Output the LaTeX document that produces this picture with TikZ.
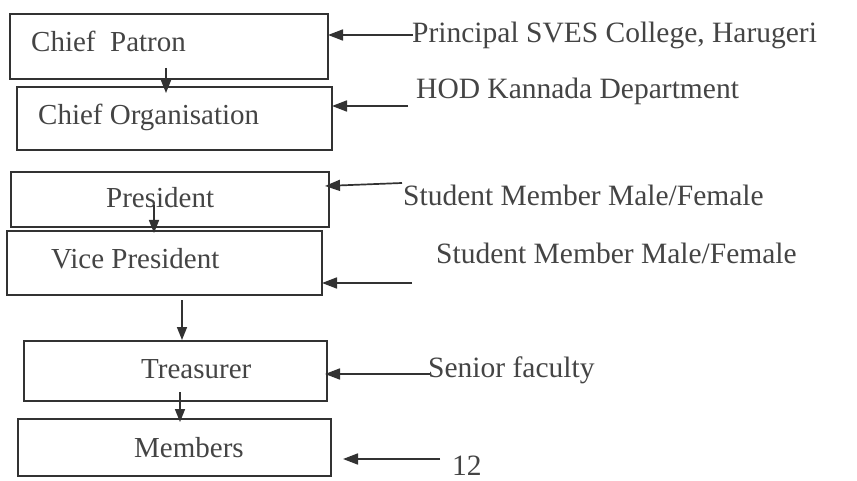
\documentclass[tikz,border=0pt]{standalone}
\usepackage{fontspec}
\setmainfont{Liberation Serif}
\usetikzlibrary{arrows.meta,calc}
\definecolor{linecol}{RGB}{50,50,50}
\definecolor{textcol}{RGB}{68,68,68}
\tikzset{
  box/.style={draw=linecol, line width=2pt, rectangle, inner sep=0pt, outer sep=0pt},
  boxtext/.style={anchor=base west, inner sep=0pt, text=textcol, font=\fontsize{29}{34}\selectfont},
  sidetext/.style={anchor=base west, inner sep=0pt, text=textcol, font=\fontsize{29.5}{34}\selectfont},
  harr/.style={draw=linecol, line width=1.7pt, -{Triangle[length=15pt,width=11pt]}},
  varr/.style={draw=linecol, line width=1.7pt, -{Triangle[length=13pt,width=10pt]}}
}
\begin{document}
\begin{tikzpicture}[x=1pt,y=-1pt]
\useasboundingbox[fill=white] (0,0) rectangle (857,481);
% boxes
\node[box, minimum width=318pt, minimum height=65pt] (cp) at (169,46.5) {};
\node[box, minimum width=315pt, minimum height=63pt] (co) at (174.5,118.5) {};
\node[box, minimum width=318pt, minimum height=55pt] (pr) at (170,199.5) {};
\node[box, minimum width=315pt, minimum height=64pt] (vp) at (164.5,263) {};
\node[box, minimum width=303pt, minimum height=60pt] (tr) at (175.5,371) {};
\node[box, minimum width=313pt, minimum height=57pt] (me) at (174.5,447.5) {};
% box texts
\node[boxtext] (cpt) at (31,52) {Chief\ \ Patron};
\node[boxtext] (cot) at (38,125) {Chief Organisation};
\node[boxtext] (prt) at (106,208) {President};
\node[boxtext] (vpt) at (51,269) {Vice President};
\node[boxtext] (trt) at (141,378) {Treasurer};
\node[boxtext] (met) at (134,457) {Members};
% side texts
\node[sidetext] (t1) at (412,43) {Principal SVES College, Harugeri};
\node[sidetext] (t2) at (416,99) {HOD Kannada Department};
\node[sidetext] (t3) at (403,206) {Student Member Male/Female};
\node[sidetext] (t4) at (436,263) {Student Member Male/Female};
\node[sidetext] (t5) at (428,377) {Senior faculty};
\node[sidetext] (t6) at (452,475) {12};
% horizontal arrow start points
\coordinate (s1) at (413,35);
\coordinate (s2) at (408,106);
\coordinate (s3) at (402,183);
\coordinate (s4) at (412,283);
\coordinate (s5) at (430,374);
\coordinate (s6) at (440,459);
\draw[harr] (s1) -- (s1 -| cp.east);
\draw[harr] (s2) -- (s2 -| co.east);
\draw[harr] (s3) -- ($(pr.east)+(-4,-13.5)$);
\draw[harr] (s4) -- (s4 -| vp.east);
\draw[harr] (s5) -- ($(s5 -| tr.east)+(-2,0)$);
\draw[harr] (s6) -- ($(s6 -| me.east)+(12,0)$);
% vertical arrows
\draw[varr] ($(cp.south)+(-3,-11)$) -- ($(co.north)+(-8.5,6)$);
\draw[varr] ($(pr.south)+(-16,-22)$) -- ($(vp.north)+(-10.5,2)$);
\draw[varr] ($(vp.south)+(17.5,5)$) -- ($(tr.north)+(6.5,-1)$);
\draw[varr] ($(tr.south)+(4.5,-9)$) -- ($(me.north)+(5.5,3)$);
\end{tikzpicture}
\end{document}
